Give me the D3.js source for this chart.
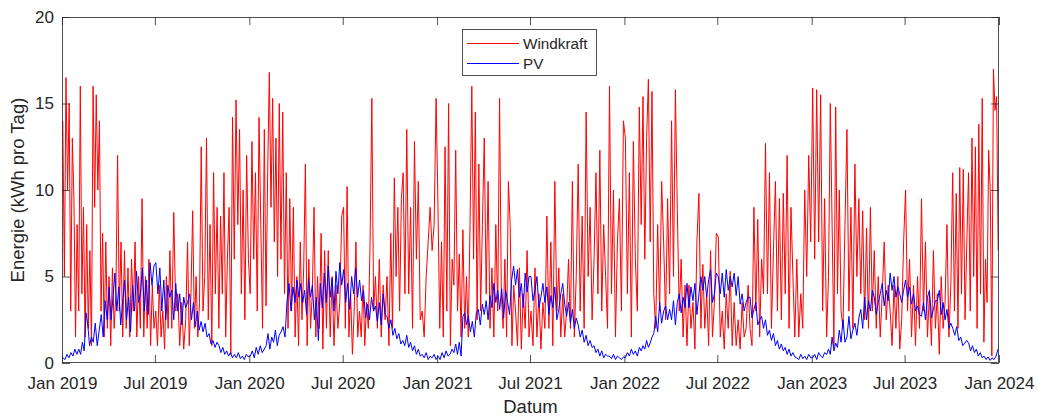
<!DOCTYPE html>
<html>
<head>
<meta charset="utf-8">
<script src="https://cdn.jsdelivr.net/npm/d3@7"></script>
<style>
  body { margin: 0; background: #fff; }
  text { font-family: "Liberation Sans", Arial, sans-serif; fill: #262626; }
</style>
</head>
<body>
<svg width="1038" height="417"></svg>
<script>
// daily energy, a few values per month (Jan 2019 .. Dec 2023)
const windkraft = [
  // 2019
  [14, 5, 16.5, 10, 15, 3, 13, 9.5, 1.5, 8],
  [3, 16, 4, 9, 1.5, 8, 2, 6.5, 1],
  [16, 9, 15.5, 10, 14, 3, 7.5, 1.5, 7, 2],
  [5, 1, 5.5, 2, 4, 12, 3, 7, 1.5],
  [6.5, 2, 5.5, 1.5, 6, 3, 7, 1.5, 5],
  [2, 9.5, 1.5, 5, 2, 6, 1, 4.5, 2],
  [3, 1, 4.5, 1.5, 3, 0.8, 5, 2, 6.5],
  [2, 8.7, 3, 4, 1, 3.5, 0.8, 2.5],
  [7, 1, 4, 8.8, 2, 5, 1.5, 3.5, 12.5],
  [3, 5, 13, 2.5, 8, 1, 11, 4, 9],
  [2, 8.5, 4, 11, 1.5, 6, 9, 0.5, 14.2],
  [6, 15.2, 8, 13.5, 4, 10, 2.5, 12, 6],
  // 2020
  [4, 12.8, 6, 11, 3, 14.2, 8, 2, 13.5],
  [3.3, 11, 16.8, 9, 15.3, 7, 13, 5, 15],
  [6, 14.5, 4, 11, 2, 9.5, 3, 9, 1.5],
  [5, 1, 7, 2.5, 5.5, 11.5, 1, 6, 2],
  [4, 9, 1.5, 5, 2, 7.5, 0.8, 6.5, 2],
  [6.5, 1.5, 5, 1, 4.5, 2, 3.5, 8.5],
  [9, 2, 10.2, 1.5, 4, 0.5, 3, 7, 1.5],
  [3, 1.5, 4.5, 1, 3.5, 2, 7, 15.3, 3],
  [5, 2, 6, 1.5, 4.5, 2.5, 5, 1],
  [7.5, 2, 10.7, 5, 9, 3, 9.5, 11, 4],
  [13.5, 4, 9, 2, 12.8, 6, 10.5, 2.5],
  [3, 1.5, 5, 7, 9, 6.5, 8, 15.3],
  // 2021
  [9, 2, 7, 1.5, 12.5, 3, 15, 1, 6],
  [4.5, 12.3, 3, 6.3, 1.5, 7.7, 2, 5],
  [1.5, 8, 16, 6, 14.5, 2.5, 11.5, 3, 8],
  [13, 4, 10.5, 2, 5.5, 1.5, 8, 3],
  [15.3, 4, 2, 6, 1.5, 10.5, 8, 1, 4.5],
  [3, 1, 5.5, 0.8, 4, 2, 6.5, 1.5],
  [3, 1, 5.5, 1.5, 4, 0.8, 3.5, 2],
  [8.5, 2, 7, 1, 10.5, 3, 5.5, 1.5],
  [4, 1.5, 3, 6, 2, 10.5, 1.5, 5],
  [11.5, 3, 8.5, 2, 14.5, 5, 9, 2.5],
  [6, 11, 4, 12.3, 3, 8, 5, 2],
  [16, 4, 10, 1.5, 7, 9.5, 3, 14],
  // 2022
  [13, 4, 11, 1.5, 12.8, 6, 3, 14.8],
  [8, 15.4, 6, 13, 16.4, 7, 15.7, 4],
  [2, 8, 3, 10.5, 7, 2.5, 9.5, 4],
  [14, 5, 15.8, 8.8, 3, 6, 1.5, 4.5],
  [1, 4.5, 2, 3.5, 0.8, 7, 9.8, 2],
  [5.7, 2, 4, 1, 6.5, 1.5, 3.5, 7.5],
  [7.3, 1.5, 3, 0.8, 4, 2, 5.3, 1],
  [3.5, 1, 2.5, 0.8, 3.5, 1.5, 2, 4.5],
  [2, 1, 9, 3, 8.3, 1.5, 6, 4],
  [12.7, 4, 11, 2, 6.5, 10.5, 3, 9.5],
  [2.5, 9.8, 4, 12, 2, 9, 5, 1.5],
  [6, 1.5, 4, 2, 10, 5, 12, 7],
  // 2023
  [15.9, 6, 15.8, 7, 15.5, 3, 9.5, 1.5],
  [5, 15, 8, 1, 14.8, 4, 10, 3],
  [2, 8, 13.5, 3, 9, 2, 11.5, 5],
  [9.5, 4, 8.8, 2.5, 7.8, 2, 9, 3],
  [6.5, 2, 5, 1.5, 4, 7, 2.5, 4.5],
  [3, 1, 4.5, 2, 5, 0.8, 2.5, 7],
  [10, 3, 6, 1.5, 4.5, 1, 5, 2],
  [9.5, 3, 7, 1.5, 4, 1, 6.5, 2],
  [4, 0.5, 5, 2, 3.5, 8, 1.5, 4.5],
  [11, 3, 9.8, 2, 11.3, 4, 11.2, 2.5, 7],
  [11, 3, 13, 5, 12.5, 2, 13.8, 4, 15.3],
  [1.2, 6, 3.5, 12.3, 10, 0.4, 17, 14.6, 15.4, 6.5]
];

const pv = [
  // 2019
  [0.3, 0.2, 0.5, 0.3, 0.6, 0.4, 0.8, 0.5],
  [0.8, 0.5, 1.2, 0.7, 2.9, 2.2, 1.0, 1.5],
  [1.2, 2.3, 1.0, 1.9, 2.8, 1.5, 3.6, 2.5],
  [4.4, 2.5, 3.8, 5.2, 3, 4.4, 2.2, 3.5],
  [4.8, 2.5, 3.8, 1.8, 4.5, 3, 5.3, 3.5],
  [4, 5.5, 3, 4.8, 2.8, 5.8, 4.5, 5.6],
  [5.8, 4, 5.5, 3, 4.8, 2.5, 4.5, 3.8],
  [4.2, 2.5, 4.6, 3, 4, 2.2, 3.8, 3.2],
  [3.5, 4, 2.5, 3.5, 2.1, 3, 1.9, 2.4],
  [1.8, 2.3, 1.5, 1.7, 1.1, 1.3, 0.9, 1.2],
  [1.0, 0.6, 0.9, 0.5, 0.7, 0.4, 0.6, 0.3],
  [0.5, 0.3, 0.6, 0.25, 0.4, 0.2, 0.5, 0.35],
  // 2020
  [0.4, 0.7, 0.3, 0.9, 0.5, 1.0, 0.6, 0.8],
  [1.0, 1.7, 0.8, 1.5, 1.2, 1.9, 1.0, 1.6],
  [1.8, 2.1, 1.5, 3.6, 4.6, 3.0, 4.4, 3.5],
  [4.8, 3.8, 4.6, 3.5, 4.2, 2.8, 4.9, 3.8],
  [4.5, 2.5, 3.8, 1.3, 4.6, 3.2, 5.2, 3.5],
  [5.6, 3.8, 4.9, 3, 5.3, 4, 5.8, 4.5],
  [5.4, 3.5, 4.6, 3.1, 5.0, 4.0, 5.5, 3.8],
  [4.8, 3.6, 4.2, 2.6, 3.4, 2.5, 3.8, 3.0],
  [3.3, 2.4, 3.5, 2.2, 4.0, 2.8, 2.7, 2.0],
  [2.5, 1.6, 2.0, 1.4, 1.7, 1.1, 1.3, 1.0],
  [1.6, 0.9, 1.2, 0.7, 1.0, 0.5, 0.8, 0.4],
  [0.5, 0.3, 0.6, 0.2, 0.4, 0.3, 0.5, 0.2],
  // 2021
  [0.4, 0.2, 0.6, 0.3, 0.7, 0.4, 0.5, 0.8],
  [0.6, 1.1, 0.5, 1.2, 0.4, 2.7, 2.9, 2.2],
  [2.7, 1.8, 2.4, 1.5, 2.9, 3.1, 2.2, 3.4],
  [2.8, 3.6, 2.5, 3.9, 3.2, 4.6, 3.5, 4.2],
  [3.1, 4.3, 2.6, 4.2, 3.5, 2.8, 4.8, 5.6],
  [4.5, 5.4, 3.8, 4.6, 3.2, 5.2, 4.1, 5.0],
  [5.0, 3.6, 4.2, 5.0, 3.2, 3.8, 4.6, 3.5],
  [4.4, 2.8, 3.9, 3.2, 4.4, 2.5, 3.1, 4.0],
  [4.6, 3.4, 2.7, 3.5, 2.3, 3.1, 2.0, 2.6],
  [2.2, 1.5, 1.9, 1.2, 1.6, 1.0, 1.3, 0.9],
  [1.0, 0.6, 0.8, 0.4, 0.7, 0.3, 0.5, 0.4],
  [0.4, 0.25, 0.5, 0.2, 0.4, 0.3, 0.2, 0.35],
  // 2022
  [0.3, 0.6, 0.4, 0.8, 0.5, 0.7, 0.4, 0.9],
  [0.7, 1.0, 0.8, 1.3, 0.9, 1.15, 1.5, 1.7],
  [2.7, 1.8, 3.5, 2.3, 3.0, 3.3, 2.5, 3.1],
  [2.5, 3.6, 2.2, 3.5, 4.0, 2.9, 3.8, 3.2],
  [4.6, 3.2, 4.4, 3.6, 4.6, 2.8, 4.0, 5.0],
  [4.2, 5.0, 3.8, 4.8, 5.4, 3.5, 4.0, 5.2],
  [5.0, 4.0, 5.2, 3.8, 5.4, 4.2, 5.0, 4.4],
  [5.2, 3.9, 5.0, 3.4, 4.0, 3.0, 3.5, 3.8],
  [3.8, 2.6, 3.1, 3.5, 2.2, 2.5, 2.7, 2.0],
  [2.5, 1.6, 1.9, 1.3, 1.7, 1.0, 1.3, 0.8],
  [1.1, 0.7, 0.9, 0.5, 0.8, 0.4, 0.6, 0.35],
  [0.3, 0.2, 0.5, 0.25, 0.4, 0.2, 0.5, 0.3],
  // 2023
  [0.3, 0.5, 0.2, 0.6, 0.4, 0.3, 0.6, 0.5],
  [0.8, 0.5, 1.5, 0.7, 1.15, 0.9, 1.9, 1.2],
  [2.5, 1.2, 1.5, 2.7, 1.4, 1.9, 2.3, 1.6],
  [2.6, 3.1, 2.0, 3.8, 2.5, 3.6, 3.0, 4.2],
  [3.8, 2.8, 3.5, 4.0, 4.6, 3.3, 4.2, 3.6],
  [5.2, 4.2, 5.0, 3.8, 4.4, 4.0, 3.5, 4.2],
  [4.8, 3.8, 4.4, 3.4, 4.0, 3.0, 3.3, 2.8],
  [2.7, 3.5, 2.5, 3.8, 4.2, 2.6, 3.1, 3.6],
  [3.6, 4.2, 2.8, 3.5, 2.5, 3.1, 2.0, 2.3],
  [2.0, 1.6, 2.1, 1.3, 1.5, 1.0, 1.15, 1.3],
  [1.15, 0.7, 1.0, 0.6, 0.8, 0.4, 0.6, 0.3],
  [0.4, 0.2, 0.35, 0.15, 0.3, 0.2, 0.4, 0.8]
];

const seriesNames = ["Windkraft", "PV"];
const yTicks = [0, 5, 10, 15, 20];

const svg = d3.select("svg");
const plotL = 62, plotR = 999, plotT = 17, plotB = 363;

const start = new Date(2019, 0, 1), end = new Date(2024, 0, 1);
const months = d3.timeMonth.range(start, end);

// spread each month's values evenly across that month
function toPoints(series) {
  return series.flatMap((vals, m) => {
    const t0 = months[m], t1 = d3.timeMonth.offset(t0, 1);
    return vals.map((v, j) => ({ date: new Date(+t0 + (j + 0.5) / vals.length * (t1 - t0)), value: v }));
  });
}

const x = d3.scaleTime().domain([start, end]).range([plotL, plotR]);
const y = d3.scaleLinear().domain([0, 20]).range([plotB, plotT]);

svg.append("clipPath").attr("id", "plot")
  .append("rect").attr("x", plotL).attr("y", plotT).attr("width", plotR - plotL).attr("height", plotB - plotT);

const line = d3.line().x(d => x(d.date)).y(d => y(d.value));

const colors = ["#ff0000", "#0000ff"];
const lines = svg.append("g").attr("clip-path", "url(#plot)");
[windkraft, pv].forEach((s, i) => {
  lines.append("path")
    .datum(toPoints(s))
    .attr("d", line)
    .attr("fill", "none")
    .attr("stroke", colors[i])
    .attr("stroke-width", 1);
});

// axes, MATLAB-like with inward ticks on all four sides
const xTicks = d3.timeMonth.every(6).range(start, d3.timeDay.offset(end, 1));
const fmt = d3.timeFormat("%b %Y");
const tick = 8;

function style(g) {
  g.select(".domain").remove();
  g.selectAll(".tick line").attr("stroke", "#262626").attr("stroke-width", 0.8);
  g.selectAll(".tick text").attr("font-size", 17).attr("fill", "#262626")
    .attr("font-family", '"Liberation Sans", Arial, sans-serif');
}

svg.append("g").attr("transform", `translate(0,${plotB})`)
  .call(d3.axisBottom(x).tickValues(xTicks).tickFormat(fmt).tickSizeInner(-tick).tickSizeOuter(0).tickPadding(14))
  .call(style);
svg.append("g").attr("transform", `translate(0,${plotT})`)
  .call(d3.axisTop(x).tickValues(xTicks).tickFormat("").tickSizeInner(-tick).tickSizeOuter(0))
  .call(style);
svg.append("g").attr("transform", `translate(${plotL},0)`)
  .call(d3.axisLeft(y).tickValues(yTicks).tickSizeInner(-tick).tickSizeOuter(0).tickPadding(8))
  .call(style);
svg.append("g").attr("transform", `translate(${plotR},0)`)
  .call(d3.axisRight(y).tickValues(yTicks).tickFormat("").tickSizeInner(-tick).tickSizeOuter(0))
  .call(style);

svg.append("rect")
  .attr("x", plotL + 0.5).attr("y", plotT + 0.5)
  .attr("width", plotR - plotL - 1).attr("height", plotB - plotT - 1)
  .attr("fill", "none").attr("stroke", "#262626").attr("stroke-width", 0.8);

svg.append("text")
  .attr("x", (plotL + plotR) / 2).attr("y", 413)
  .attr("text-anchor", "middle").attr("font-size", 18.5)
  .text("Datum");

svg.append("text")
  .attr("transform", `translate(24,${(plotT + plotB) / 2}) rotate(-90)`)
  .attr("text-anchor", "middle").attr("font-size", 18.5)
  .text("Energie (kWh pro Tag)");

// legend
const lg = svg.append("g").attr("transform", "translate(462,29)");
lg.append("rect").attr("x", 0.5).attr("y", 0.5).attr("width", 134).attr("height", 46)
  .attr("fill", "#fff").attr("stroke", "#262626").attr("stroke-width", 0.8);
seriesNames.forEach((name, i) => {
  const ly = 14.5 + i * 20;
  lg.append("line").attr("x1", 5).attr("x2", 57).attr("y1", ly).attr("y2", ly)
    .attr("stroke", colors[i]).attr("stroke-width", 1);
  lg.append("text").attr("x", 61).attr("y", ly).attr("dy", "0.35em")
    .attr("font-size", 15.3).text(name);
});
</script>
</body>
</html>
